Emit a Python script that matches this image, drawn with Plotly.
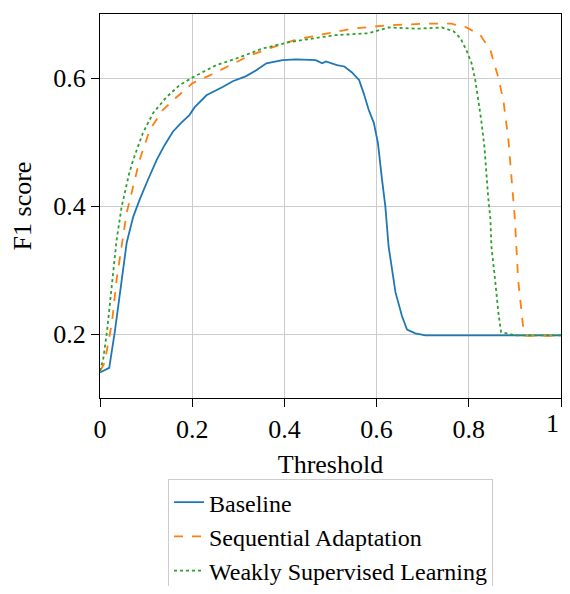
import plotly.graph_objects as go

# threshold / F1 values
base_x = [0.0, 0.02, 0.032, 0.045, 0.058, 0.072, 0.086, 0.104, 0.123, 0.14, 0.158, 0.176, 0.194,
          0.205, 0.231, 0.266, 0.288, 0.317, 0.339, 0.361, 0.38, 0.396, 0.425, 0.45, 0.468,
          0.482, 0.49, 0.514, 0.53, 0.546, 0.562, 0.572, 0.583, 0.594, 0.603, 0.611, 0.619,
          0.626, 0.641, 0.655, 0.666, 0.684, 0.706, 0.8, 0.9, 1.0]
base_y = [0.14, 0.147, 0.203, 0.275, 0.343, 0.383, 0.41, 0.441, 0.472, 0.495, 0.516, 0.53, 0.542,
          0.554, 0.573, 0.586, 0.595, 0.603, 0.612, 0.623, 0.626, 0.628, 0.629, 0.628, 0.628,
          0.623, 0.626, 0.62, 0.618, 0.609, 0.597, 0.576, 0.55, 0.53, 0.498, 0.446, 0.399,
          0.337, 0.265, 0.228, 0.207, 0.201, 0.198, 0.198, 0.198, 0.198]

seq_x = [0.0, 0.01, 0.018, 0.026, 0.036, 0.047, 0.058, 0.065, 0.075, 0.086, 0.108, 0.136, 0.166,
         0.201, 0.238, 0.281, 0.324, 0.374, 0.425, 0.482, 0.546, 0.619, 0.706, 0.762, 0.795,
         0.825, 0.847, 0.864, 0.875, 0.886, 0.896, 0.9, 0.907, 0.918, 0.924, 1.0]
seq_y = [0.142, 0.155, 0.187, 0.218, 0.285, 0.337, 0.39, 0.41, 0.44, 0.472, 0.519, 0.55, 0.57,
         0.592, 0.604, 0.62, 0.635, 0.648, 0.66, 0.668, 0.677, 0.682, 0.685, 0.685, 0.679,
         0.667, 0.643, 0.601, 0.565, 0.503, 0.41, 0.379, 0.285, 0.21, 0.197, 0.197]

weak_x = [0.0, 0.007, 0.015, 0.022, 0.029, 0.036, 0.047, 0.054, 0.063, 0.072, 0.093, 0.115, 0.144,
          0.173, 0.201, 0.252, 0.302, 0.352, 0.41, 0.482, 0.511, 0.583, 0.626, 0.691, 0.741,
          0.767, 0.782, 0.795, 0.806, 0.814, 0.821, 0.827, 0.834, 0.838, 0.842, 0.847, 0.849,
          0.857, 0.864, 0.87, 0.9, 1.0]
weak_y = [0.142, 0.161, 0.203, 0.249, 0.305, 0.347, 0.399, 0.42, 0.45, 0.472, 0.514, 0.545, 0.57,
          0.589, 0.601, 0.62, 0.632, 0.646, 0.656, 0.664, 0.667, 0.67, 0.679, 0.677, 0.679,
          0.673, 0.662, 0.643, 0.623, 0.597, 0.565, 0.534, 0.492, 0.452, 0.414, 0.379, 0.337,
          0.285, 0.234, 0.203, 0.198, 0.198]

x_ticks = [0, 0.2, 0.4, 0.6, 0.8, 1]
x_labels = ["0", "0.2", "0.4", "0.6", "0.8", "1"]
y_ticks = [0.2, 0.4, 0.6]
y_labels = ["0.2", "0.4", "0.6"]

font = "Liberation Serif, Times New Roman, serif"
txt = dict(family=font, size=26, color="black")

fig = go.Figure()
fig.add_trace(go.Scatter(x=base_x, y=base_y, mode="lines", name="Baseline",
                         line=dict(color="#1f77b4", width=1.8)))
fig.add_trace(go.Scatter(x=seq_x, y=seq_y, mode="lines", name="Sequential Adaptation",
                         line=dict(color="#ff7f0e", width=1.8, dash="dash")))
fig.add_trace(go.Scatter(x=weak_x, y=weak_y, mode="lines", name="Weakly Supervised Learning",
                         line=dict(color="#2ca02c", width=1.8, dash="dot")))

axis = dict(showline=True, linecolor="black", linewidth=1, mirror=True,
            ticks="outside", ticklen=8, tickcolor="black",
            showgrid=True, gridcolor="#cccccc", gridwidth=1, zeroline=False,
            tickfont=txt, automargin=False)

# last x label would be clipped by the page edge, so it is drawn as an annotation
fig.update_xaxes(range=[0, 1], tickvals=x_ticks,
                 ticktext=x_labels[:-1] + [""],
                 title=dict(text="Threshold", font=txt, standoff=12), **axis)
fig.update_yaxes(range=[0.1, 0.7], tickvals=y_ticks, ticktext=y_labels,
                 title=dict(text="F1 score", font=txt, standoff=14), **axis)

fig.add_annotation(x=x_ticks[-1], y=0, xref="x", yref="paper", text=x_labels[-1],
                   showarrow=False, xanchor="right", yanchor="top", yshift=-9,
                   font=txt)

# page body has an 8px margin, so the figure is a bit smaller than the window
fig.update_layout(
    width=554, height=578,
    margin=dict(l=92, r=1, t=6, b=188, autoexpand=False),
    plot_bgcolor="white", paper_bgcolor="white",
    font=txt,
    legend=dict(x=0.5, xanchor="center", y=0.185, yanchor="top", yref="container",
                bordercolor="#cccccc", borderwidth=1,
                font=dict(family=font, size=24, color="black"),
                tracegroupgap=0, itemwidth=30),
    showlegend=True,
)

fig.write_html("out.html")
